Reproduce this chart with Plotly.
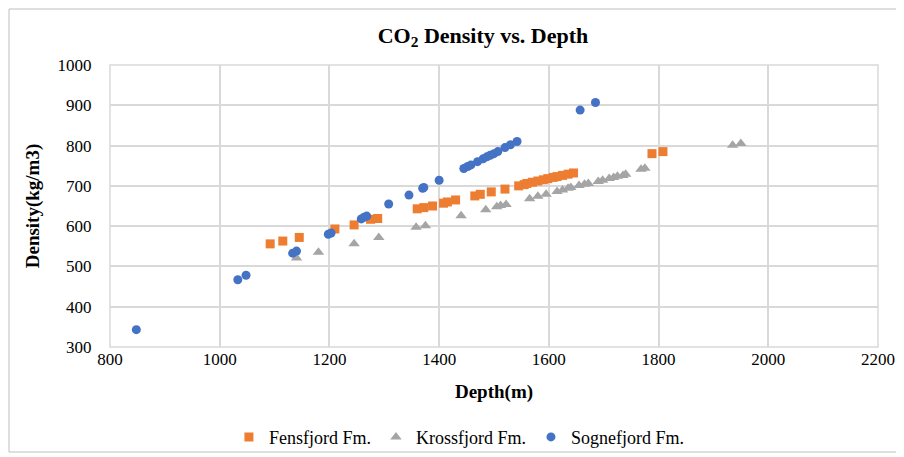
import plotly.graph_objects as go

# Sognefjord Fm. (blue circles)
sogne_depth = [848, 1033, 1048, 1133, 1140, 1198, 1203, 1258, 1263, 1268, 1308, 1345, 1370, 1372, 1400,
               1445, 1452, 1458, 1470, 1480, 1487, 1493, 1500, 1507, 1520, 1530, 1542, 1657, 1685]
sogne_dens = [343, 467, 478, 533, 538, 580, 583, 618, 622, 625, 655, 677, 694, 696, 714,
              743, 748, 752, 760, 767, 772, 776, 780, 785, 795, 802, 810, 888, 907]

# Fensfjord Fm. (orange squares)
fens_depth = [1092, 1115, 1145, 1210, 1245, 1275, 1288, 1360, 1372, 1388, 1408, 1415, 1430, 1465, 1475,
              1495, 1520, 1545, 1555, 1560, 1570, 1580, 1590, 1598, 1608, 1615, 1625, 1635, 1645, 1788, 1808]
fens_dens = [556, 563, 572, 593, 603, 617, 619, 643, 646, 650, 657, 660, 665, 675, 679,
             685, 692, 700, 703, 706, 709, 712, 715, 718, 721, 723, 726, 729, 732, 780, 785]

# Krossfjord Fm. (grey triangles)
kross_depth = [1140, 1180, 1245, 1290, 1358, 1375, 1440, 1485, 1505, 1512, 1522, 1565, 1580, 1595, 1615,
               1625, 1635, 1640, 1655, 1665, 1672, 1690, 1698, 1710, 1718, 1725, 1735, 1740, 1768, 1775, 1935, 1950]
kross_dens = [521, 535, 556, 572, 597, 601, 626, 641, 648, 651, 654, 668, 674, 679, 686,
              690, 694, 696, 701, 704, 706, 711, 714, 718, 721, 724, 726, 729, 741, 744, 801, 805]

FONT = "Liberation Serif"

fig = go.Figure()
fig.add_trace(go.Scatter(x=fens_depth, y=fens_dens, mode="markers", name="Fensfjord Fm.",
                         marker=dict(symbol="square", size=9, color="#ED7D31")))
fig.add_trace(go.Scatter(x=kross_depth, y=kross_dens, mode="markers", name="Krossfjord Fm.",
                         marker=dict(symbol="triangle-up", size=10, color="#A5A5A5")))
fig.add_trace(go.Scatter(x=sogne_depth, y=sogne_dens, mode="markers", name="Sognefjord Fm.",
                         marker=dict(symbol="circle", size=9, color="#4472C4")))

# page body has an 8px margin, so the figure is sized to fit inside the window
fig.update_layout(
    width=896, height=449,
    margin=dict(l=102, r=26, t=57, b=110, autoexpand=False),
    paper_bgcolor="white", plot_bgcolor="white",
    title=dict(text="<b>CO<sub>2</sub> Density vs. Depth</b>", x=(483 - 8) / 896, xanchor="center",
               y=0.94, yanchor="middle", font=dict(family=FONT, size=22, color="#000000")),
    font=dict(family=FONT, size=17, color="#000000"),
    xaxis=dict(range=[800, 2200], dtick=200, showgrid=True, gridcolor="#d9d9d9", gridwidth=1.5,
               zeroline=False, showline=False, ticks="",
               automargin=False,
               title=dict(text="<b>Depth(m)</b>", font=dict(family=FONT, size=19), standoff=16),
               tickfont=dict(family=FONT, size=17)),
    yaxis=dict(range=[300, 1000], dtick=100, showgrid=True, gridcolor="#d9d9d9", gridwidth=1.5,
               zeroline=False, showline=False, ticks="outside", ticklen=14,
               tickcolor="rgba(0,0,0,0)", automargin=False,
               title=dict(text="<b>Density(kg/m3)</b>", font=dict(family=FONT, size=19), standoff=12),
               tickfont=dict(family=FONT, size=17)),
    legend=dict(orientation="h", x=0.455, xanchor="center", y=-0.32, yanchor="middle",
                font=dict(family=FONT, size=18), itemwidth=30, tracegroupgap=0,
                bgcolor="rgba(0,0,0,0)"),
    showlegend=True,
)
fig.add_shape(type="rect", xref="paper", yref="paper", x0=0, x1=1, y0=0, y1=1,
              line=dict(color="#d9d9d9", width=1.5), layer="below")
fig.add_shape(type="rect", xref="paper", yref="paper",
              x0=-101/768, x1=1 + 22/768, y0=-105/282, y1=1 + 56/282,
              line=dict(color="#bfbfbf", width=1))

fig.write_html("out.html")
